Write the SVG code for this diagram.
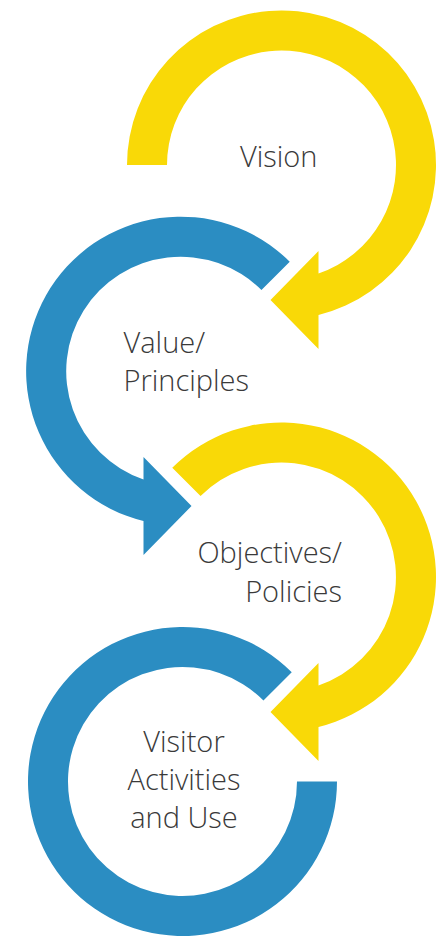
<svg xmlns="http://www.w3.org/2000/svg" width="448" height="936" viewBox="0 0 448 936">
  <style>
    .yellow { fill: #F9D907; }
    .blue { fill: #2B8DC2; }
    .label { font-family: "Open Sans", "Liberation Sans", sans-serif; font-weight: 300; font-size: 29px; fill: #3a3a3a; }
  </style>
  <rect width="448" height="936" fill="#ffffff"/>
  <g id="connectors"></g>
  <g id="node-vision">
    <path class="yellow" d="M127,165 A154.5,154.5 0 1 1 318.5,315 L318.5,349 L270.5,300 L318.5,251 L318.5,273.4 A114.5,114.5 0 1 0 167,165 Z"/>
    <text class="label" x="240" y="167">Vision</text>
  </g>
  <g id="node-values">
    <path class="blue" d="M289.75,261.75 A154.5,154.5 0 1 0 143.5,521.1 L143.5,555 L191.5,506 L143.5,457 L143.5,479.5 A114.5,114.5 0 1 1 261.46,290.04 Z"/>
    <text class="label" x="123.5" y="353">Value/</text>
    <text class="label" x="123.5" y="390.5">Principles</text>
  </g>
  <g id="node-objectives">
    <path class="yellow" d="M172.25,467.75 A154.5,154.5 0 1 1 318.5,727 L318.5,761 L270.5,712 L318.5,663 L318.5,685.4 A114.5,114.5 0 1 0 200.54,496.04 Z"/>
    <text class="label" x="342" y="563" text-anchor="end">Objectives/</text>
    <text class="label" x="342" y="601.5" text-anchor="end">Policies</text>
  </g>
  <g id="node-visitor">
    <path class="blue" d="M291.75,672.25 A154.5,154.5 0 1 0 337,781.5 L297,781.5 A114.5,114.5 0 1 1 263.46,700.54 Z"/>
    <text class="label" x="184" y="752" text-anchor="middle">Visitor</text>
    <text class="label" x="184" y="790" text-anchor="middle">Activities</text>
    <text class="label" x="184" y="828" text-anchor="middle">and Use</text>
  </g>
</svg>
